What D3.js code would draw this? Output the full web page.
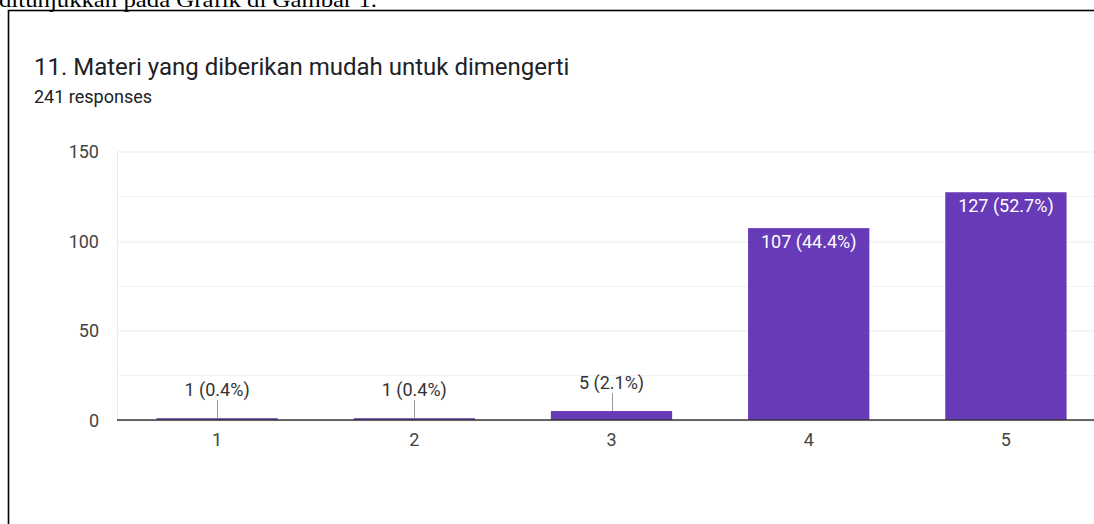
<!DOCTYPE html>
<html>
<head>
<meta charset="utf-8">
<script src="https://cdn.jsdelivr.net/npm/d3@7"></script>
<style>
  body { margin: 0; background: #fff; }
  svg { display: block; }
</style>
</head>
<body>
<script>
// chart values
var categories = ["1", "2", "3", "4", "5"];
var counts = [1, 1, 5, 107, 127];
var percents = ["0.4%", "0.4%", "2.1%", "44.4%", "52.7%"];
var yTicks = [0, 50, 100, 150];
var yMinorTicks = [25, 75, 125];
var titleText = "11. Materi yang diberikan mudah untuk dimengerti";
var subtitleText = "241 responses";
var pageText = "ditunjukkan pada Grafik di Gambar 1.";

var W = 1094, H = 524;
var labelFont = "18px Roboto, sans-serif";

var svg = d3.select("body")
    .append("svg")
    .attr("width", W)
    .attr("height", H);

// cut-off line of the surrounding document
svg.append("text")
    .attr("x", -1)
    .attr("y", 7)
    .attr("textLength", 378)
    .attr("lengthAdjust", "spacingAndGlyphs")
    .style("font", "22px 'Liberation Serif', serif")
    .style("fill", "#000")
    .text(pageText);

// frame round the screenshot
svg.append("rect")
    .attr("x", 8.5)
    .attr("y", 10.5)
    .attr("width", 1200)
    .attr("height", 600)
    .attr("fill", "none")
    .attr("stroke", "#000")
    .attr("stroke-width", 1.6);

svg.append("text")
    .attr("x", 34)
    .attr("y", 75)
    .style("font", "24px Roboto, sans-serif")
    .style("fill", "#202124")
    .text(titleText);

svg.append("text")
    .attr("x", 34)
    .attr("y", 103)
    .style("font", "18px Roboto, sans-serif")
    .style("fill", "#202124")
    .text(subtitleText);

// scales
var x = d3.scaleBand()
    .domain(categories)
    .range([117, 1106])
    .paddingInner(0.385)
    .paddingOuter(0.2);

var y = d3.scaleLinear()
    .domain([0, 150])
    .range([420, 151]);

var data = categories.map(function(c, i) {
  return {cat: c, value: counts[i], pct: percents[i]};
});

// minor gridlines
svg.append("g")
    .selectAll("line")
    .data(yMinorTicks)
    .enter().append("line")
    .attr("x1", 117).attr("x2", W)
    .attr("y1", function(d) { return Math.round(y(d)) + 0.5; })
    .attr("y2", function(d) { return Math.round(y(d)) + 0.5; })
    .attr("stroke", "#f2f2f2");

// major gridlines + labels via axis
var yAxis = d3.axisLeft(y)
    .tickValues(yTicks)
    .tickSize(-(W - 117))
    .tickPadding(18);

var gy = svg.append("g")
    .attr("transform", "translate(117,0)")
    .call(yAxis);
gy.select(".domain").remove();
gy.selectAll("line")
    .attr("stroke", "#ebebeb")
    .attr("transform", function(d) { return "translate(0," + (Math.round(y(d)) + 0.5 - y(d)) + ")"; });
gy.selectAll("text")
    .attr("dy", "0.36em")
    .style("font", labelFont)
    .style("fill", "#444");

// left vertical gridline
svg.append("line")
    .attr("x1", 117.5).attr("x2", 117.5)
    .attr("y1", y(150)).attr("y2", y(0))
    .attr("stroke", "#ebebeb");

// bars
svg.selectAll(".bar")
    .data(data)
    .enter().append("rect")
    .attr("class", "bar")
    .attr("x", function(d) { return x(d.cat); })
    .attr("width", x.bandwidth())
    .attr("y", function(d) { return y(d.value); })
    .attr("height", function(d) { return y(0) - y(d.value); })
    .attr("fill", "#673ab7");

// baseline
svg.append("line")
    .attr("x1", 117).attr("x2", W)
    .attr("y1", y(0)).attr("y2", y(0))
    .attr("stroke", "#333")
    .attr("stroke-width", 1.5);

// x axis labels
var xAxis = d3.axisBottom(x).tickSize(0).tickPadding(13);
var gx = svg.append("g")
    .attr("transform", "translate(0," + y(0) + ")")
    .call(xAxis);
gx.select(".domain").remove();
gx.selectAll("text")
    .style("font", labelFont)
    .style("fill", "#444");

// value labels: inside tall bars, above short ones with a leader line
var small = data.filter(function(d) { return y(0) - y(d.value) < 40; });
var tall = data.filter(function(d) { return y(0) - y(d.value) >= 40; });

svg.selectAll(".lead")
    .data(small)
    .enter().append("line")
    .attr("class", "lead")
    .attr("x1", function(d) { return Math.round(x(d.cat) + x.bandwidth() / 2) + 0.5; })
    .attr("x2", function(d) { return Math.round(x(d.cat) + x.bandwidth() / 2) + 0.5; })
    .attr("y1", function(d) { return y(d.value) - 18; })
    .attr("y2", function(d) { return y(d.value); })
    .attr("stroke", "#999");

svg.selectAll(".outlabel")
    .data(small)
    .enter().append("text")
    .attr("class", "outlabel")
    .attr("x", function(d) { return x(d.cat) + x.bandwidth() / 2; })
    .attr("y", function(d) { return y(d.value) - 22; })
    .attr("text-anchor", "middle")
    .style("font", labelFont)
    .style("fill", "#333")
    .text(function(d) { return d.value + " (" + d.pct + ")"; });

svg.selectAll(".inlabel")
    .data(tall)
    .enter().append("text")
    .attr("class", "inlabel")
    .attr("x", function(d) { return x(d.cat) + x.bandwidth() / 2; })
    .attr("y", function(d) { return y(d.value) + 20; })
    .attr("text-anchor", "middle")
    .style("font", labelFont)
    .style("fill", "#fff")
    .text(function(d) { return d.value + " (" + d.pct + ")"; });
</script>
</body>
</html>
